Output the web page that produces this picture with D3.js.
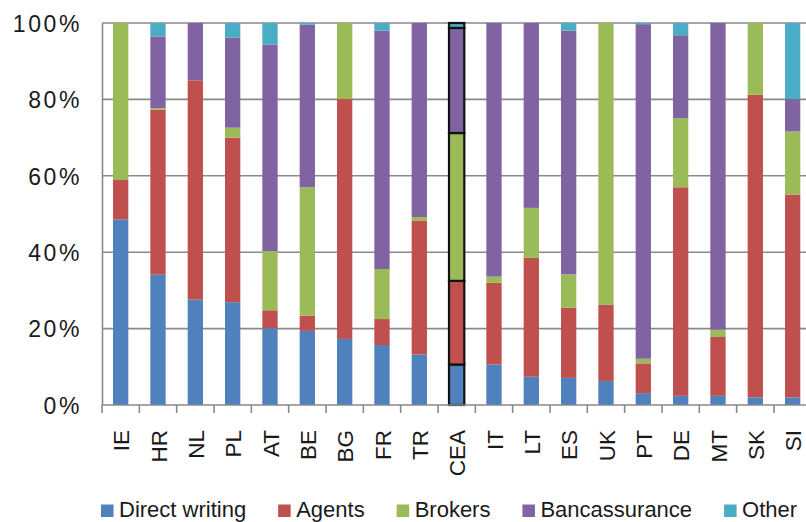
<!DOCTYPE html>
<html>
<head>
<meta charset="utf-8">
<script src="https://cdn.jsdelivr.net/npm/d3@7"></script>
<style>
  html, body { margin: 0; padding: 0; background: #fff; }
  svg { display: block; }
  text { font-family: "Liberation Sans", Arial, sans-serif; fill: #1a1a1a; }
</style>
</head>
<body>
<svg id="chart" width="806" height="522"></svg>
<script>
// Distribution channels, share of premiums by country (%)
const countries = ["IE","HR","NL","PL","AT","BE","BG","FR","TR","CEA","IT","LT","ES","UK","PT","DE","MT","SK","SI"];
const directWriting = [48.6,34.1,27.6,26.9,20.1,19.4,17.3,15.7,13.2,10.6,10.6, 7.4, 7.1, 6.3, 3.1, 2.4, 2.4, 2.0, 2.0];
const agents        = [10.3,43.2,57.4,43.1, 4.7, 4.0,62.8, 6.8,35.1,21.9,21.4,31.1,18.4,19.9, 7.8,54.6,15.4,79.2,53.1];
const brokers       = [41.1, 0.4, 0.0, 2.6,15.5,33.6,19.9,13.1, 0.9,38.7, 1.6,13.1, 8.7,73.8, 1.2,18.1, 1.9,18.8,16.5];
const bancassurance = [ 0.0,18.8,15.0,23.6,54.0,42.6, 0.0,62.4,50.8,27.5,66.4,48.4,63.8, 0.0,87.6,21.7,80.3, 0.0, 8.5];
const other         = [ 0.0, 3.5, 0.0, 3.8, 5.7, 0.4, 0.0, 2.0, 0.0, 1.3, 0.0, 0.0, 2.0, 0.0, 0.3, 3.2, 0.0, 0.0,19.9];
const seriesNames = ["Direct writing","Agents","Brokers","Bancassurance","Other"];
const seriesColors = ["#4F81BD","#C0504D","#9BBB59","#8064A2","#4BACC6"];
const yTicks = [0, 20, 40, 60, 80, 100];
const highlighted = "CEA";

const seriesValues = [directWriting, agents, brokers, bancassurance, other];
const rows = countries.map((c, i) => {
  const r = { country: c };
  seriesNames.forEach((s, k) => { r[s] = seriesValues[k][i]; });
  return r;
});

const svg = d3.select("#chart");
const plot = { left: 102, right: 811.3, top: 23, bottom: 405 };
const axisColor = "#898989";

const x = d3.scaleBand().domain(countries).range([plot.left, plot.right]).paddingInner(0.59).paddingOuter(0.295);
const y = d3.scaleLinear().domain([0, 100]).range([plot.bottom, plot.top]);

// horizontal gridlines
svg.append("g")
  .selectAll("line")
  .data(yTicks.filter(t => t > 0))
  .join("line")
  .attr("x1", plot.left).attr("x2", 806)
  .attr("y1", d => y(d)).attr("y2", d => y(d))
  .attr("stroke", axisColor).attr("stroke-width", 1.6);

// y axis
const yAxis = svg.append("g")
  .attr("transform", `translate(${plot.left},0)`)
  .call(d3.axisLeft(y).tickValues(yTicks).tickSize(0).tickPadding(20).tickFormat(d => d + "%"));
yAxis.select(".domain").attr("stroke", axisColor).attr("stroke-width", 1.6);
yAxis.selectAll("text")
  .style("font-size", "23px")
  .style("letter-spacing", "2.6px")
  .attr("dy", "0.36em");

// stacked bars
const stack = d3.stack().keys(seriesNames);
const layers = stack(rows);
svg.append("g")
  .selectAll("g")
  .data(layers)
  .join("g")
  .attr("fill", (d, i) => seriesColors[i])
  .selectAll("rect")
  .data(d => d.filter(p => p[1] - p[0] > 0))
  .join("rect")
  .attr("x", d => x(d.data.country))
  .attr("width", x.bandwidth())
  .attr("y", d => y(d[1]))
  .attr("height", d => y(d[0]) - y(d[1]))
  .attr("stroke", d => d.data.country === highlighted ? "#111" : "none")
  .attr("stroke-width", d => d.data.country === highlighted ? 2.2 : 0);

// x axis with ticks at category boundaries
const xAxisG = svg.append("g");
xAxisG.append("line")
  .attr("x1", plot.left).attr("x2", 806).attr("y1", plot.bottom).attr("y2", plot.bottom)
  .attr("stroke", axisColor).attr("stroke-width", 1.6);
const step = x.step();
const boundaries = d3.range(countries.length + 1).map(i => plot.left + i * step);
xAxisG.selectAll("line.tick")
  .data(boundaries)
  .join("line")
  .attr("class", "tick")
  .attr("x1", d => d).attr("x2", d => d)
  .attr("y1", plot.bottom).attr("y2", plot.bottom + 8)
  .attr("stroke", axisColor).attr("stroke-width", 1.6);
xAxisG.selectAll("text")
  .data(countries)
  .join("text")
  .attr("transform", d => `translate(${x(d) + x.bandwidth() / 2 + 0.5},430) rotate(-90)`)
  .attr("text-anchor", "end")
  .attr("dy", "0.36em")
  .style("font-size", "22.5px")
  .text(d => d);

// legend
const legend = svg.append("g");
let lx = 101;
seriesNames.forEach((name, i) => {
  const g = legend.append("g").attr("transform", `translate(${lx},0)`);
  g.append("rect").attr("x", 0).attr("y", 504.5).attr("width", 12.5).attr("height", 12.5).attr("fill", seriesColors[i]);
  const t = g.append("text").attr("x", 18).attr("y", 517).style("font-size", "22px").text(name);
  lx += 18 + t.node().getComputedTextLength() + 32;
});
</script>
</body>
</html>
